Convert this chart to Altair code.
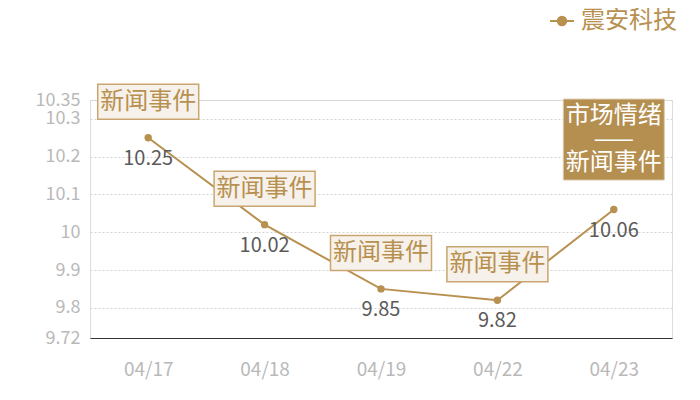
import altair as alt
import pandas as pd

# ---- data ----
dates = ["04/17", "04/18", "04/19", "04/22", "04/23"]
prices = [10.25, 10.02, 9.85, 9.82, 10.06]
series_name = "震安科技"
events = ["新闻事件", "新闻事件", "新闻事件", "新闻事件", "市场情绪\n——\n新闻事件"]
y_ticks = [9.72, 9.8, 9.9, 10, 10.1, 10.2, 10.3, 10.35]
y_domain = [9.72, 10.35]

# ---- styles ----
FONT = "Noto Sans CJK SC"
GOLD = "#b8904f"
BOX_FILL = "#f6f1ea"
BOX_STROKE = "#c9a66f"
DARK_BOX = "#b58f4f"
AXIS_LABEL = "#b9b9b9"

df = pd.DataFrame({
    "date": dates,
    "price": prices,
    "series": [series_name] * len(dates),
    "event": events,
})
df["label"] = df["price"].map(lambda v: f"{v:.2f}")
df["multi"] = df["event"].str.contains("\n")

x = alt.X(
    "date:O",
    sort=dates,
    scale=alt.Scale(type="point", padding=0.5),
    axis=alt.Axis(
        title=None, labelAngle=0, ticks=False, domain=True, domainColor="#333333",
        domainWidth=1, labelColor=AXIS_LABEL, labelFontSize=19, labelFont=FONT,
        labelPadding=22, grid=False,
    ),
)
y = alt.Y(
    "price:Q",
    scale=alt.Scale(domain=y_domain, zero=False, nice=False),
    axis=alt.Axis(
        title=None, values=y_ticks, format=".4~g", domain=False, ticks=False,
        labelColor=AXIS_LABEL, labelFontSize=18, labelFont=FONT, labelPadding=10,
        labelOverlap=False, labelFlush=False, gridColor="#d2d2d2", gridDash=[2, 2],
        gridWidth=1,
    ),
)

base = alt.Chart(df)

legend_symbol = "M-1,0H-0.35M0.35,0H1M0.35,0A0.35,0.35,0,1,1,-0.35,0A0.35,0.35,0,1,1,0.35,0Z"

line = base.mark_line(strokeWidth=2).encode(
    x=x, y=y,
    color=alt.Color(
        "series:N",
        scale=alt.Scale(range=[GOLD]),
        legend=alt.Legend(
            orient="none", legendX=459, legendY=-92, title=None, padding=0,
            symbolType=legend_symbol, symbolSize=576, symbolStrokeWidth=2,
            symbolFillColor=GOLD, symbolStrokeColor=GOLD,
            labelFontSize=24, labelColor=GOLD, labelFont=FONT, labelOffset=6,
        ),
    ),
)

points = base.mark_point(filled=True, size=55, opacity=1, color=GOLD).encode(x=x, y=y)

values = base.mark_text(dy=21, fontSize=20, color="#5a5a5a", font=FONT).encode(
    x=x, y=y, text="label:N"
)

box_shape = "M-1,-0.3465H1V0.3465H-1Z"
tall_shape = "M-1,-0.802H1V0.802H-1Z"

boxes = base.transform_filter("!datum.multi").mark_point(
    shape=box_shape, size=10201, filled=True, fill=BOX_FILL, stroke=BOX_STROKE,
    strokeWidth=1.5, opacity=1, yOffset=-36,
).encode(x=x, y=y)

box_text = base.transform_filter("!datum.multi").mark_text(
    dy=-36, fontSize=24, font=FONT, color=GOLD,
).encode(x=x, y=y, text="event:N")

tall_box = base.transform_filter("datum.multi").mark_point(
    shape=tall_shape, size=10201, filled=True, fill=DARK_BOX, stroke="#dccab0",
    strokeWidth=1, opacity=1, yOffset=-70,
).encode(x=x, y=y)

tall_text = base.transform_filter("datum.multi").mark_text(
    dy=-93.5, fontSize=24, font=FONT, color="#ffffff", lineBreak="\n", lineHeight=23.5,
).encode(x=x, y=y, text="event:N")

chart = alt.layer(line, points, values, boxes, box_text, tall_box, tall_text).properties(
    width=582,
    height=238,
    autosize=alt.AutoSizeParams(type="none"),
    padding={"left": 82, "top": 92, "right": 20, "bottom": 50},
).configure_view(stroke="transparent", strokeWidth=0).configure(background="#ffffff")

chart.save("out.html", embed_options={"renderer": "svg", "actions": False})
